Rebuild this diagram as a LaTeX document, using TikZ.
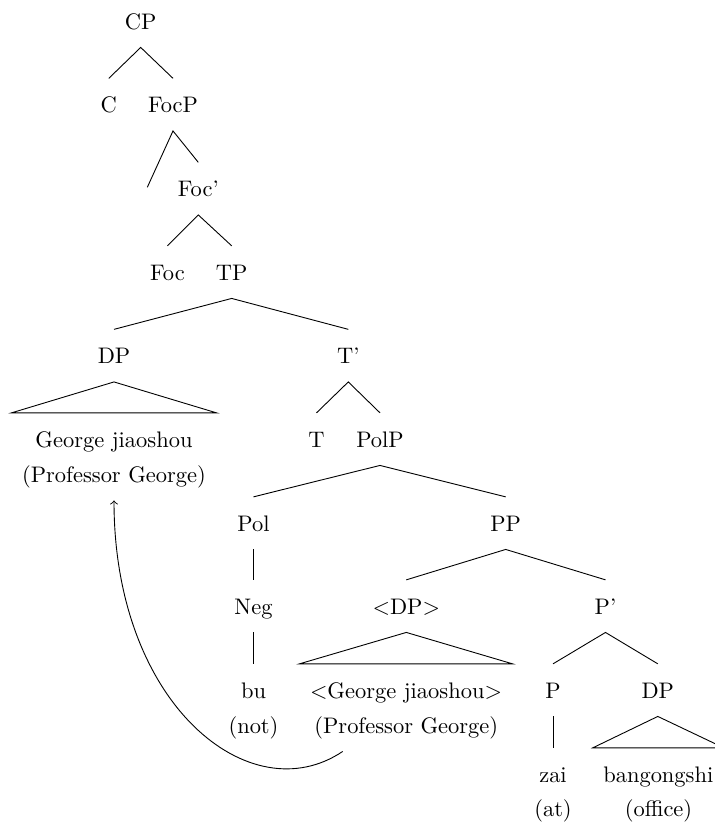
\documentclass[tikz,border=0pt]{standalone}
\usetikzlibrary{calc}
\begin{document}
\begin{tikzpicture}[x=0.445pt, y=-0.445pt,
  lab/.style={anchor=base, inner xsep=4.5pt, inner ysep=6pt, text height=9pt, text depth=2pt},
  branch/.style={line width=0.4pt},
  movement/.style={->, line width=0.4pt}]
\useasboundingbox (0,0) rectangle (715,825);

% ---- labels (placed on their baselines) ----
\node[lab] (CP)    at (140.7,29)   {CP};
\node[lab] (C)     at (108.8,112.5) {C};
\node[lab] (FocP)  at (173,112.5)  {FocP};
\coordinate (spec) at (147.3,187.3);
\node[lab] (Focbar) at (198.3,196.5) {Foc'};
\node[lab] (Foc)   at (167.5,280)  {Foc};
\node[lab] (TP)    at (231.7,280)  {TP};
\node[lab] (DPa)   at (114,363.5)  {DP};
\node[lab] (Tbar)  at (348.3,363.5) {T'};
\node[lab] (gjA)   at (114,447)    {George jiaoshou};
\node[lab] (pgA)   at (114,482)    {(Professor George)};
\node[lab] (T)     at (316.5,447)  {T};
\node[lab] (PolP)  at (380,447)    {PolP};
\node[lab] (Pol)   at (253.5,531)  {Pol};
\node[lab] (PP)    at (505.7,531)  {PP};
\node[lab] (Neg)   at (253.5,614)  {Neg};
\node[lab] (DPb)   at (406.3,614)  {$<$DP$>$};
\node[lab] (Pbar)  at (605.5,614)  {P'};
\node[lab] (bu)    at (253.5,698)  {bu};
\node[lab] (notgl) at (253.5,733)  {(not)};
\node[lab] (gjB)   at (406,698)    {$<$George jiaoshou$>$};
\node[lab] (pgB)   at (406.3,733)  {(Professor George)};
\node[lab] (P)     at (553,698)    {P};
\node[lab] (DPc)   at (657.8,698)  {DP};
\node[lab] (zai)   at (553,782)    {zai};
\node[lab] (atgl)  at (553,816)    {(at)};
\node[lab] (bgs)   at (658.3,782)  {bangongshi};
\node[lab] (office) at (658.5,816) {(office)};

% ---- branches ----
\draw[branch] (C.north) -- (CP.south) -- (FocP.north);
\draw[branch] (spec) -- (FocP.south) -- (Focbar.north);
\draw[branch] (Foc.north) -- (Focbar.south) -- (TP.north);
\draw[branch] (DPa.north) -- (TP.south) -- (Tbar.north);
\draw[branch] (T.north) -- (Tbar.south) -- (PolP.north);
\draw[branch] (Pol.north) -- (PolP.south) -- (PP.north);
\draw[branch] (Pol.south) -- (Neg.north);
\draw[branch] (Neg.south) -- (bu.north);
\draw[branch] (DPb.north) -- (PP.south) -- (Pbar.north);
\draw[branch] (P.north) -- (Pbar.south) -- (DPc.north);
\draw[branch] (P.south) -- (zai.north);

% ---- roofs ----
\draw[branch] (DPa.south) -- (pgA.west |- gjA.north) -- (pgA.east |- gjA.north) -- cycle;
\draw[branch] (DPb.south) -- (gjB.west |- gjB.north) -- (gjB.east |- gjB.north) -- cycle;
\draw[branch] (DPc.south) -- (bgs.west |- bgs.north) -- (bgs.east |- bgs.north) -- cycle;

% ---- movement arrow ----
\draw[movement] ($(pgB.south)+(-63.6,0)$) .. controls +(-92,62) and +(0,205) .. (pgA.south);
\end{tikzpicture}
\end{document}
